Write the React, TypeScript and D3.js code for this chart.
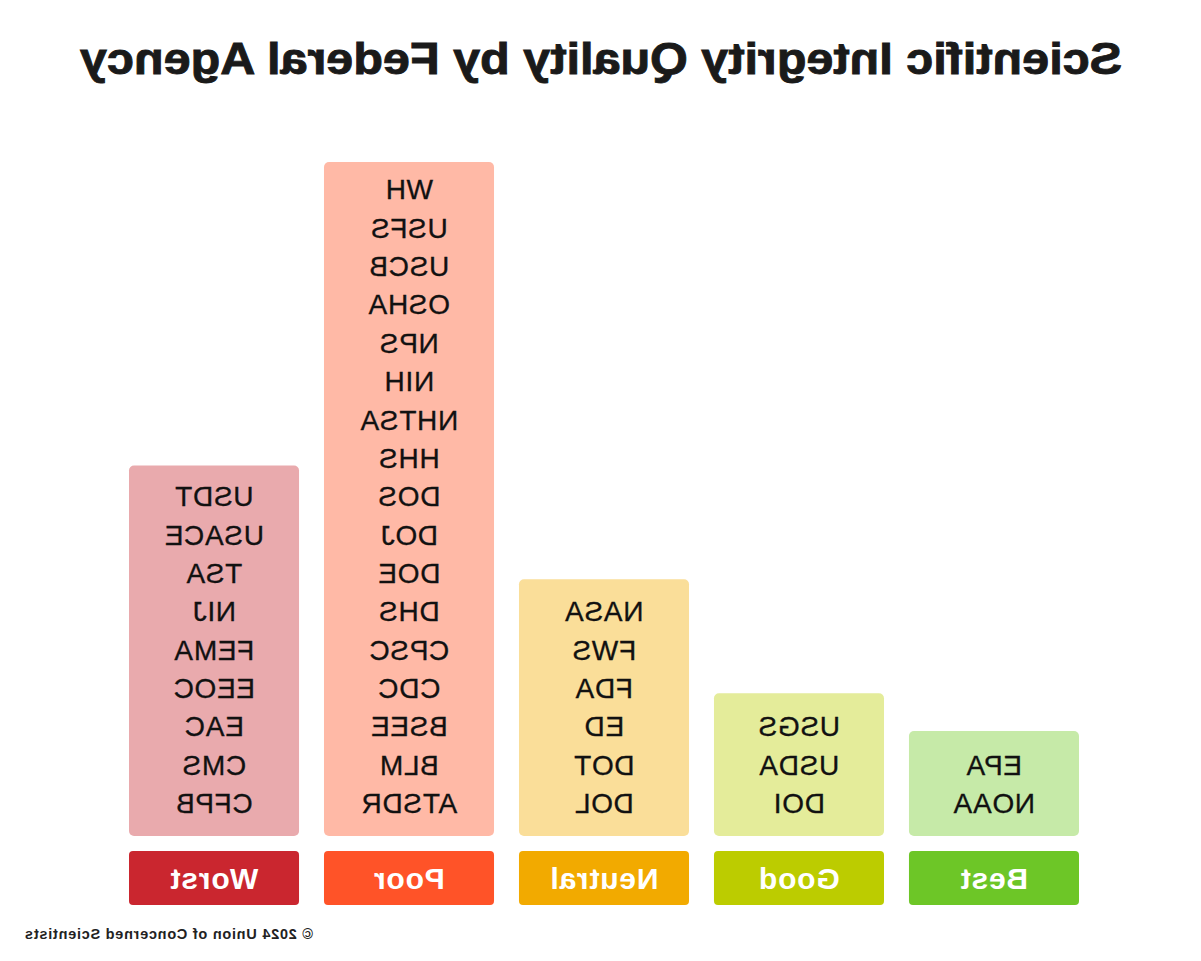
import React from "react";
import * as d3 from "d3";

const categories = ["Best", "Good", "Neutral", "Poor", "Worst"];
const bestAgencies = ["EPA", "NOAA"];
const goodAgencies = ["USGS", "USDA", "DOI"];
const neutralAgencies = ["NASA", "FWS", "FDA", "ED", "DOT", "DOL"];
const poorAgencies = ["WH", "USFS", "USCB", "OSHA", "NPS", "NIH", "NHTSA", "HHS", "DOS", "DOJ", "DOE", "DHS", "CPSC", "CDC", "BSEE", "BLM", "ATSDR"];
const worstAgencies = ["USDT", "USACE", "TSA", "NIJ", "FEMA", "EEOC", "EAC", "CMS", "CFPB"];
const barColors = ["#C6EAA8", "#E4EC9A", "#FADE99", "#FFB9A6", "#E9AAAD"];
const labelColors = ["#6DC627", "#BCCC00", "#F2AA00", "#FF5328", "#CA262F"];

const W = 1201;
const H = 961;

export default function App() {
  const lists = [bestAgencies, goodAgencies, neutralAgencies, poorAgencies, worstAgencies];
  const x = d3.scaleBand<string>().domain(categories).range([122, 1072]).paddingInner(0.128).paddingOuter(0);
  const maxCount = d3.max(lists, (l) => l.length) as number;
  const y = d3.scaleLinear().domain([0, maxCount]).range([807, 162]);
  const row = d3.scaleLinear().domain([0, 16]).range([813, 813 - 16 * 38.35]);
  const barBottom = 836;
  const labelTop = 851;
  const labelH = 54;
  const bw = x.bandwidth();
  const itemFont = "'Liberation Sans', Arial, sans-serif";

  return (
    <svg width={W} height={H} style={{ position: "absolute", left: 0, top: 0, background: "#fff" }}>
      <g transform={`translate(${W},0) scale(-1,1)`}>
        <text
          x={600}
          y={74}
          textAnchor="middle"
          fontFamily="'Liberation Sans', Arial, sans-serif"
          fontWeight="bold"
          fontSize={44}
          fill="#1a1a1a"
          stroke="#1a1a1a"
          strokeWidth={0.9}
          textLength={1042}
          lengthAdjust="spacingAndGlyphs"
        >
          Scientific Integrity Quality by Federal Agency
        </text>
        {categories.map((c, i) => {
          const list = lists[i];
          const x0 = x(c) as number;
          const top = y(list.length);
          return (
            <g key={c}>
              <rect x={x0} y={top} width={bw} height={barBottom - top} rx={5} fill={barColors[i]} />
              {list.map((name, j) => (
                <text
                  key={name}
                  x={x0 + bw / 2}
                  y={row(list.length - 1 - j)}
                  textAnchor="middle"
                  fontFamily={itemFont}
                  fontSize={28}
                  letterSpacing={0.7}
                  fill="#111"
                  stroke="#111"
                  strokeWidth={0.3}
                >
                  {name}
                </text>
              ))}
              <rect x={x0} y={labelTop} width={bw} height={labelH} rx={4} fill={labelColors[i]} />
              <text
                x={x0 + bw / 2}
                y={labelTop + labelH / 2 + 11}
                textAnchor="middle"
                fontFamily="'Liberation Sans', Arial, sans-serif"
                fontWeight="bold"
                fontSize={30}
                letterSpacing={0.8}
                fill="#fff"
              >
                {c}
              </text>
            </g>
          );
        })}
        <text
          x={1176}
          y={939}
          textAnchor="end"
          fontFamily="'Liberation Sans', Arial, sans-serif"
          fontWeight="bold"
          fontSize={14.5}
          fill="#222"
          textLength={288}
          lengthAdjust="spacing"
        >
          © 2024 Union of Concerned Scientists
        </text>
      </g>
    </svg>
  );
}
